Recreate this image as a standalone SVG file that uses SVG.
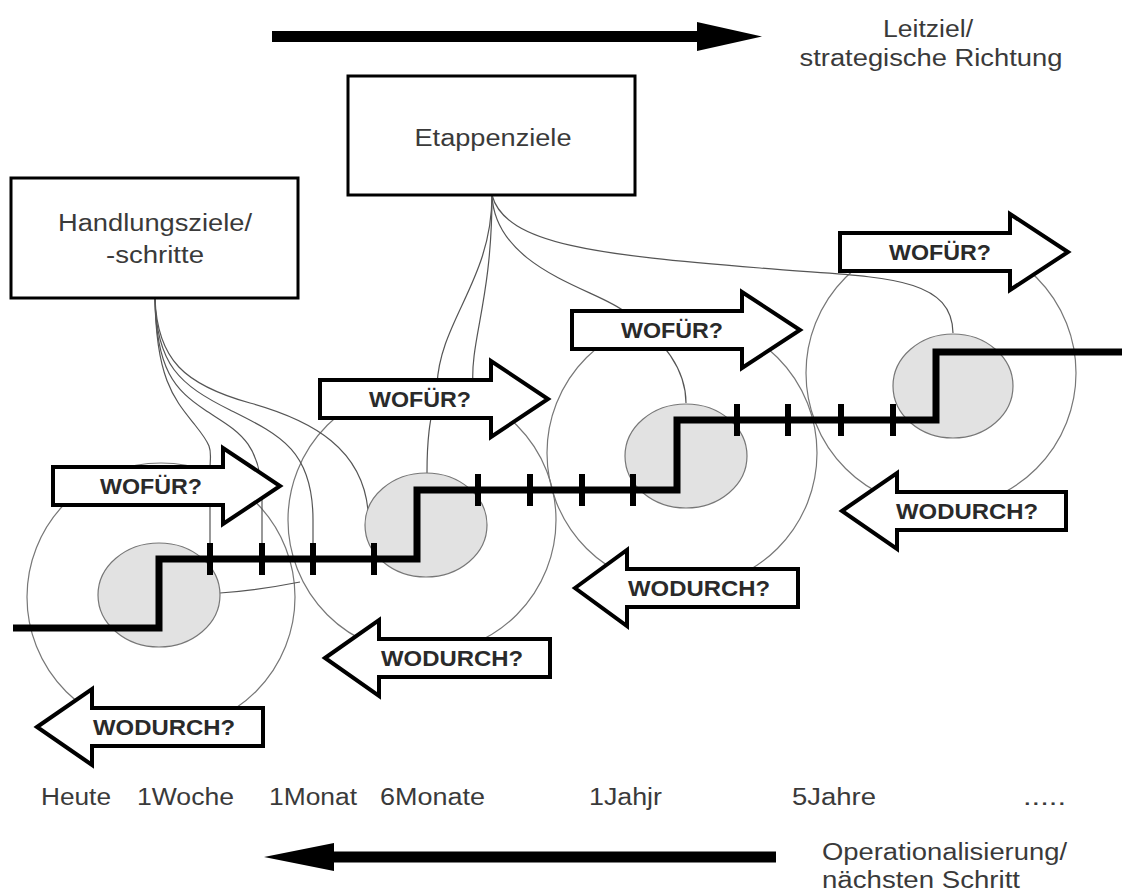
<svg xmlns="http://www.w3.org/2000/svg" width="1122" height="893" viewBox="0 0 1122 893">
<style>
.t{font-family:"Liberation Sans",Arial,sans-serif;font-size:23px;fill:#3a3a3a}
.b{font-family:"Liberation Sans",Arial,sans-serif;font-size:22px;font-weight:bold;fill:#2a2a2a;text-anchor:middle}
.box{fill:#fff;stroke:#000;stroke-width:3}
.arr{fill:#fff;stroke:#000;stroke-width:4;stroke-linejoin:miter}
.big{fill:none;stroke:#777;stroke-width:1.2}
.small{fill:#e2e2e2;stroke:#777;stroke-width:1.2}
.con{fill:none;stroke:#555;stroke-width:1.2}
.step{fill:none;stroke:#000;stroke-width:7;stroke-linejoin:miter}
.tick{stroke:#000;stroke-width:6}
.dir{fill:#000}
</style>
<rect width="1122" height="893" fill="#fff"/>

<g id="direction-top">
  <rect x="272" y="31" width="428" height="11" class="dir"/>
  <polygon points="697,22 762,36.5 697,51" class="dir"/>
  <text class="t" x="928" y="37" text-anchor="middle" textLength="90" lengthAdjust="spacingAndGlyphs">Leitziel/</text>
  <text class="t" x="931" y="66" text-anchor="middle" textLength="263" lengthAdjust="spacingAndGlyphs">strategische Richtung</text>
</g>

<g id="big-circles">
  <circle cx="161" cy="597" r="134" class="big"/>
  <circle cx="422" cy="520" r="134" class="big"/>
  <circle cx="682" cy="453" r="135" class="big"/>
  <circle cx="941" cy="373" r="135" class="big"/>
</g>

<g id="connectors">
  <path class="con" d="M155,298 C156,380 175,400 195,425 S210,450 210,470 L210,543"/>
  <path class="con" d="M155,298 C156,370 175,390 205,410 S262,440 262,500 L262,543"/>
  <path class="con" d="M155,298 C156,365 180,385 230,410 S313,450 313,520 L313,543"/>
  <path class="con" d="M155,298 C157,360 185,385 250,403 S362,450 368,510"/>
  <path class="con" d="M220,593 Q260,590 300,582"/>
  <path class="con" d="M492,195 C492,300 470,340 473,385"/>
  <path class="con" d="M492,195 C492,280 440,320 437,385 C434,410 427,420 427,473"/>
  <path class="con" d="M492,195 C495,270 600,290 625,312 C665,340 686,370 686,403"/>
  <path class="con" d="M492,195 C505,245 600,255 760,268 C870,278 952,272 953,333"/>
</g>

<g id="small-ellipses">
  <ellipse cx="159" cy="595" rx="61" ry="52" class="small"/>
  <ellipse cx="426" cy="525" rx="61" ry="52" class="small"/>
  <ellipse cx="686" cy="456" rx="61" ry="52" class="small"/>
  <ellipse cx="953" cy="386" rx="60" ry="52" class="small"/>
</g>

<g id="timeline">
  <path class="step" d="M13,628 H159 V559 H417 V490 H677 V420 H936 V352 H1122"/>
  <g class="tick">
    <line x1="210" y1="543" x2="210" y2="575"/>
    <line x1="262" y1="543" x2="262" y2="575"/>
    <line x1="313" y1="543" x2="313" y2="575"/>
    <line x1="374" y1="543" x2="374" y2="575"/>
    <line x1="478" y1="474" x2="478" y2="506"/>
    <line x1="530" y1="474" x2="530" y2="506"/>
    <line x1="582" y1="474" x2="582" y2="506"/>
    <line x1="633" y1="474" x2="633" y2="506"/>
    <line x1="737" y1="404" x2="737" y2="436"/>
    <line x1="788" y1="404" x2="788" y2="436"/>
    <line x1="841" y1="404" x2="841" y2="436"/>
    <line x1="893" y1="404" x2="893" y2="436"/>
  </g>
</g>

<g id="box-etappenziele">
  <rect x="348" y="76" width="287" height="119" class="box"/>
  <text class="t" x="493" y="146" text-anchor="middle" textLength="157" lengthAdjust="spacingAndGlyphs">Etappenziele</text>
</g>

<g id="box-handlungsziele">
  <rect x="11" y="178" width="287" height="120" class="box"/>
  <text class="t" x="155" y="231" text-anchor="middle" textLength="194" lengthAdjust="spacingAndGlyphs">Handlungsziele/</text>
  <text class="t" x="155" y="263" text-anchor="middle" textLength="98" lengthAdjust="spacingAndGlyphs">-schritte</text>
</g>

<g id="wofuer-1">
  <path class="arr" d="M53,467 H223 V448 L280,486 L223,524 V505 H53 Z"/>
  <text class="b" x="151" y="494" textLength="102" lengthAdjust="spacingAndGlyphs">WOFÜR?</text>
</g>
<g id="wofuer-2">
  <path class="arr" d="M320,380 H491 V361 L548,399 L491,437 V418 H320 Z"/>
  <text class="b" x="420" y="407" textLength="102" lengthAdjust="spacingAndGlyphs">WOFÜR?</text>
</g>
<g id="wofuer-3">
  <path class="arr" d="M572,311 H742 V292 L800,330 L742,368 V349 H572 Z"/>
  <text class="b" x="672" y="338" textLength="102" lengthAdjust="spacingAndGlyphs">WOFÜR?</text>
</g>
<g id="wofuer-4">
  <path class="arr" d="M840,233 H1010 V214 L1068,252 L1010,290 V271 H840 Z"/>
  <text class="b" x="940" y="260" textLength="102" lengthAdjust="spacingAndGlyphs">WOFÜR?</text>
</g>

<g id="wodurch-1">
  <path class="arr" d="M37,727 L92,689 V708 H263 V746 H92 V765 Z"/>
  <text class="b" x="164" y="735" textLength="142" lengthAdjust="spacingAndGlyphs">WODURCH?</text>
</g>
<g id="wodurch-2">
  <path class="arr" d="M325,658 L379,620 V639 H550 V677 H379 V696 Z"/>
  <text class="b" x="452" y="666" textLength="142" lengthAdjust="spacingAndGlyphs">WODURCH?</text>
</g>
<g id="wodurch-3">
  <path class="arr" d="M575,588 L627,550 V569 H798 V607 H627 V626 Z"/>
  <text class="b" x="699" y="596" textLength="142" lengthAdjust="spacingAndGlyphs">WODURCH?</text>
</g>
<g id="wodurch-4">
  <path class="arr" d="M842,511 L897,473 V492 H1066 V530 H897 V549 Z"/>
  <text class="b" x="967" y="519" textLength="142" lengthAdjust="spacingAndGlyphs">WODURCH?</text>
</g>

<g id="time-labels">
  <text class="t" x="41" y="805" textLength="70" lengthAdjust="spacingAndGlyphs">Heute</text>
  <text class="t" x="137" y="805" textLength="97" lengthAdjust="spacingAndGlyphs">1Woche</text>
  <text class="t" x="269" y="805" textLength="88" lengthAdjust="spacingAndGlyphs">1Monat</text>
  <text class="t" x="380" y="805" textLength="105" lengthAdjust="spacingAndGlyphs">6Monate</text>
  <text class="t" x="589" y="805" textLength="73" lengthAdjust="spacingAndGlyphs">1Jahjr</text>
  <text class="t" x="792" y="805" textLength="84" lengthAdjust="spacingAndGlyphs">5Jahre</text>
  <text class="t" x="1023" y="805" textLength="43" lengthAdjust="spacingAndGlyphs">.....</text>
</g>

<g id="direction-bottom">
  <rect x="332" y="851.5" width="444" height="11" class="dir"/>
  <polygon points="334,843 264,857 334,871" class="dir"/>
  <text class="t" x="822" y="860" textLength="245" lengthAdjust="spacingAndGlyphs">Operationalisierung/</text>
  <text class="t" x="822" y="888" textLength="198" lengthAdjust="spacingAndGlyphs">nächsten Schritt</text>
</g>
</svg>
